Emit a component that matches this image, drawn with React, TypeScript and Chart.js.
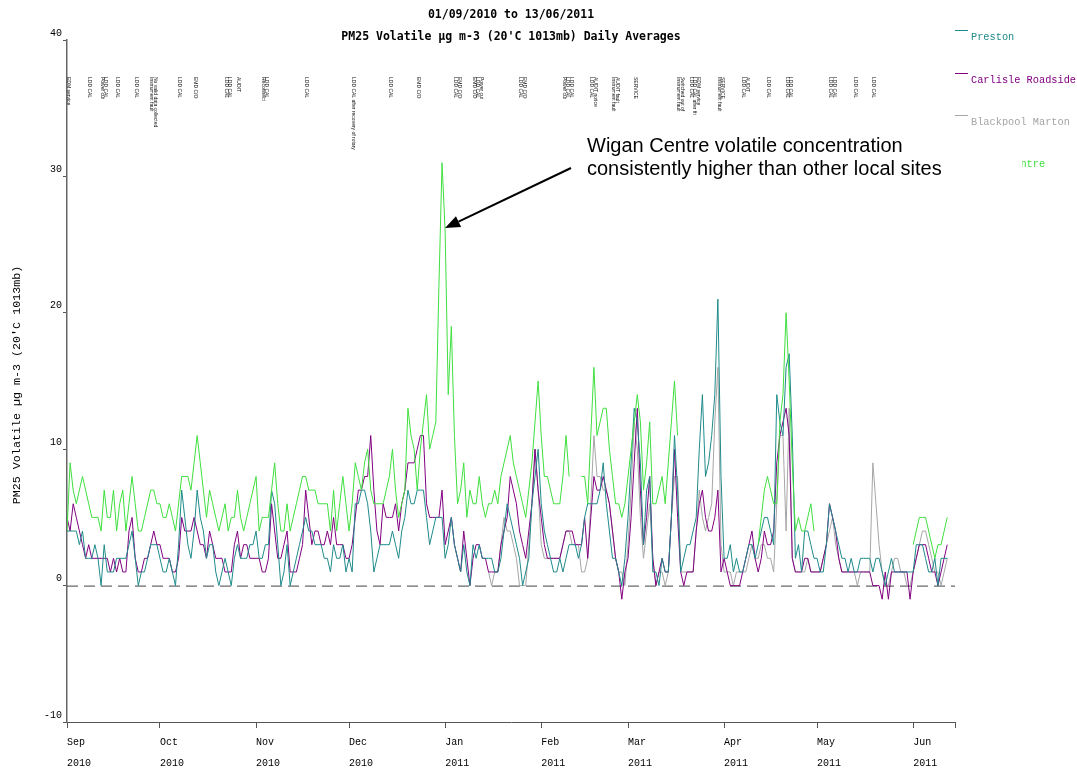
import React, { useEffect, useRef } from 'react';
import { Chart, registerables } from 'chart.js';
Chart.register(...registerables);

// Daily averages, day 0 = 01/09/2010
const wigan: (number | null)[] = [
  4,9,7,6,7,8,7,6,5,5, 5,4,7,5,5,7,4,6,7,4, 6,8,6,4,4,5,6,7,7,6, 6,5,5,6,5,4,6,8,8,8,
  7,9,11,9,7,5,7,6,5,4, 5,6,4,5,5,7,5,4,5,6, 7,8,4,5,5,5,7,9,6,4, 4,6,4,5,6,7,8,8,7,7,
  7,6,6,6,6,4,7,4,6,8, 6,4,6,9,8,7,9,10,7,6, 6,6,6,7,8,10,7,5,6,7, 13,11,10,7,10,12,14,10,11,12,
  22,31,26,14,19,11,6,7,9,5, 7,6,6,8,6,5,6,6,7,6, 8,9,10,11,9,8,7,6,5,7, 9,12,15,11,8,8,7,6,6,6,
  8,11,8,null,null,null,8,8,6,11, 16,11,12,13,13,10,8,6,6,5, 6,8,10,12,14,12,7,9,12,6, 6,7,8,6,9,12,15,11,null,null,
  null,null,null,null,null,null,null,null,null,null, null,null,null,null,null,null,null,null,null,null,
  null,null,null,3,5,7,8,7,6,6, 12,14,20,15,9,4,5,4,4,5, 6,4,null,null,null,null,null,null,null,null,
  null,null,null,null,null,null,null,null,null,null, null,null,null,null,null,null,null,null,null,null,
  null,null,null,3,4,5,5,5,4,3, 2,3,3,4,5,
];
const carlisle: number[] = [
  5,4,6,5,4,3,2,3,2,2, 2,2,2,2,1,2,1,2,1,1, 4,5,2,1,1,2,2,3,4,3, 3,2,2,2,1,1,2,5,4,4,
  4,5,4,3,3,2,4,3,2,2, 2,1,1,1,3,4,2,3,3,2, 2,2,2,1,1,2,6,4,2,2, 3,4,1,1,1,2,3,7,5,3,
  4,4,3,3,4,3,5,3,3,3, 2,2,3,5,7,7,8,8,11,7, 4,3,6,5,5,5,6,4,6,7, 9,9,9,10,11,11,6,5,5,5,
  5,7,3,4,5,3,2,1,4,2, 0,2,3,3,2,2,1,1,1,1, 3,4,5,8,7,6,4,3,2,4, 6,10,7,5,3,2,2,2,2,2,
  3,4,4,4,3,3,3,5,2,5, 8,7,7,8,7,6,4,2,1,-1, 1,2,5,9,13,7,3,5,8,2, 0,1,2,1,1,5,10,5,1,0,
  1,1,1,4,6,7,5,4,4,5, 7,1,2,1,0,0,0,0,1,2, 3,4,2,1,2,4,3,3,4,9, 11,12,13,11,2,1,1,1,2,2,
  1,1,1,1,2,3,6,5,4,2, 1,1,1,1,1,1,1,1,1,1, 0,0,0,-1,1,-1,1,1,1,1, 1,1,-1,1,2,3,3,3,2,1,
  1,0,1,2,3,
];
const preston: number[] = [
  4,4,4,4,3,4,2,2,2,3, 2,0,3,1,1,1,2,2,2,2, 3,4,2,0,1,1,2,3,3,3, 2,1,1,2,1,0,3,7,5,3,
  2,4,7,5,4,2,3,3,1,0, 1,2,1,0,2,3,2,2,2,3, 3,4,2,2,3,3,7,6,3,0, 1,3,0,1,2,3,4,5,4,4,
  3,3,3,2,2,1,3,2,2,3, 1,2,1,6,6,7,7,6,4,1, 2,3,3,3,3,4,3,2,4,5, 7,6,6,7,7,7,5,3,4,5,
  5,5,2,3,5,3,2,1,3,1, 0,3,2,3,2,2,2,2,1,1, 2,4,6,5,4,3,2,0,1,2, 6,8,10,6,4,3,2,1,1,2,
  1,2,3,3,3,2,3,5,6,6, 6,6,7,9,6,4,2,2,1,0, 2,5,9,13,12,9,3,7,8,1, 1,0,2,1,1,5,11,7,1,2,
  3,3,4,5,10,14,8,9,11,14, 21,8,2,2,3,1,2,1,1,2, 3,3,2,3,4,5,5,4,3,14, 12,11,16,17,11,2,3,1,4,4,
  3,2,2,1,1,3,6,5,4,3, 2,2,1,2,1,1,2,2,2,2, 1,2,2,1,0,1,2,1,1,1, 1,1,1,1,3,3,3,2,1,1,
  2,0,2,2,2,
];
const blackpoolStart = 136;
const blackpool: number[] = [
  1,0,1,1, 3,5,4,4,3,2,0,0,0,3, 6,10,7,3,2,2,2,2,2,2, 3,4,4,3,3,3,1,1,2,6,
  11,8,8,7,7,6,4,2,1,1, 0,3,7,12,10,5,2,4,6,2, 0,1,1,0,1,5,8,8,1,1, 1,1,1,4,7,5,4,5,6,12,
  16,3,1,1,1,0,1,1,1,1, 2,3,2,2,3,3,2,2,1,6, 11,11,4,13,2,1,1,1,1,2, 1,1,1,1,2,3,4,5,3,2,
  1,1,1,1,1,0,1,1,1,1, 9,6,3,1,0,0,1,2,2,1, 1,0,0,1,2,3,4,4,3,2, 1,1,0,1,2,
];

const monthTicks = [0, 30, 61, 91, 122, 153, 181, 212, 242, 273];
const monthLabels = ['Sep', 'Oct', 'Nov', 'Dec', 'Jan', 'Feb', 'Mar', 'Apr', 'May', 'Jun'];
const yearLabels = ['2010', '2010', '2010', '2010', '2011', '2011', '2011', '2011', '2011', '2011'];
const yTicks = [-10, 0, 10, 20, 30, 40];

const seriesNames = ['Preston', 'Carlisle Roadside', 'Blackpool Marton', 'Wigan Centre'];
const seriesColors = ['#1f8a8a', '#800080', '#a6a6a6', '#3fdf3f'];

const eventDays = [0, 7, 11, 16, 22, 27, 36, 41, 51, 55, 63, 77, 92, 104, 113, 125, 131, 146, 160, 169, 176, 183, 197, 201, 210, 218, 226, 232, 246, 254, 260];
const eventTexts: string[][] = [
  ['EDM service'], ['LDD CAL'], ['Power cut', 'LDD CAL'], ['LDD CAL'], ['LDD CAL'],
  ['Instrument fault', 'No valid data collected'], ['LDD CAL'], ['EMD C/O'], ['LDD CAL', 'LDD CAL'], ['AUDIT'],
  ['Reconnect', 'LDD CAL'], ['LDD CAL'], ['LDD CAL after recovery of rotary'], ['LDD CAL'], ['EMD C/O'],
  ['LDD CAL', 'EMD C/O'], ['EMD C/O', 'LDD CAL', 'Power cut'], ['LDD CAL', 'EMD C/O'], ['Power cut', 'LDD CAL', 'LDD CAL'],
  ['LDD CAL', 'AUDIT notice'], ['Instrument fault', 'AUDIT fault'], ['SERVICE'], ['Instrument fault', 'Switched out of'],
  ['LDD CAL', 'LDD CAL after fit', 'EDM service'], ['Instrument fault', 'SERVICE'], ['LDD CAL', 'AUDIT'], ['LDD CAL'],
  ['LDD CAL', 'LDD CAL'], ['LDD CAL', 'LDD CAL'], ['LDD CAL'], ['LDD CAL'],
];

const titleLines = ['01/09/2010 to 13/06/2011', "PM25 Volatile µg m-3 (20'C 1013mb) Daily Averages"];
const yTitle = "PM25 Volatile µg m-3 (20'C 1013mb)";
const noteLines = ['Wigan Centre volatile concentration', 'consistently higher than other local sites'];

const toPts = (arr: (number | null)[], start = 0) => arr.map((v, i) => ({ x: i + start, y: v }));

const overlay = {
  id: 'overlay',
  beforeDatasetsDraw(chart: any) {
    const { ctx, chartArea, scales } = chart;
    const y0 = scales.y.getPixelForValue(0);
    ctx.save();
    ctx.strokeStyle = '#444';
    ctx.lineWidth = 1;
    ctx.setLineDash([11, 6]);
    ctx.beginPath();
    ctx.moveTo(chartArea.left, y0 + 0.5);
    ctx.lineTo(chartArea.right, y0 + 0.5);
    ctx.stroke();
    ctx.restore();

    ctx.save();
    ctx.fillStyle = '#111';
    ctx.font = '5px "Liberation Sans"';
    ctx.textBaseline = 'middle';
    eventDays.forEach((d, i) => {
      const x = scales.x.getPixelForValue(d);
      eventTexts[i].forEach((t, k) => {
        ctx.save();
        ctx.translate(x + k * 3.5 + 1, 77);
        ctx.rotate(Math.PI / 2);
        ctx.fillText(t, 0, 0);
        ctx.restore();
      });
    });
    ctx.restore();
  },
  afterDraw(chart: any) {
    const { ctx, chartArea } = chart;
    ctx.save();
    // titles
    ctx.fillStyle = '#000';
    ctx.font = 'bold 11.5px "DejaVu Sans Mono"';
    ctx.textAlign = 'center';
    ctx.textBaseline = 'middle';
    const cx = (chartArea.left + chartArea.right) / 2;
    ctx.fillText(titleLines[0], cx, 15);
    ctx.fillText(titleLines[1], cx, 37);
    // y title
    ctx.font = '11.7px "Liberation Mono"';
    ctx.save();
    ctx.translate(17, (chartArea.top + chartArea.bottom) / 2 + 4);
    ctx.rotate(-Math.PI / 2);
    ctx.fillText(yTitle, 0, 0);
    ctx.restore();
    // legend
    const legY = [30, 73, 115, 157];
    ctx.textAlign = 'left';
    ctx.font = '10.3px "Liberation Mono"';
    seriesNames.forEach((n, i) => {
      ctx.strokeStyle = seriesColors[i];
      ctx.lineWidth = 1;
      ctx.beginPath();
      ctx.moveTo(955, legY[i] + 0.5);
      ctx.lineTo(968, legY[i] + 0.5);
      ctx.stroke();
      ctx.fillStyle = seriesColors[i];
      ctx.fillText(n, 971, legY[i] + 7);
    });
    // annotation box
    ctx.fillStyle = '#fff';
    ctx.fillRect(580, 126, 442, 60);
    ctx.fillStyle = '#000';
    ctx.font = '20px "Liberation Sans"';
    ctx.fillText(noteLines[0], 587, 146);
    ctx.fillText(noteLines[1], 587, 169);
    // arrow
    const x1 = 571, y1 = 168, x2 = 445, y2 = 228;
    const ang = Math.atan2(y2 - y1, x2 - x1);
    const hl = 15, hw = 6;
    const bx = x2 - hl * Math.cos(ang), by = y2 - hl * Math.sin(ang);
    ctx.strokeStyle = '#000';
    ctx.lineWidth = 2;
    ctx.beginPath();
    ctx.moveTo(x1, y1);
    ctx.lineTo(bx, by);
    ctx.stroke();
    ctx.beginPath();
    ctx.moveTo(x2, y2);
    ctx.lineTo(bx + hw * Math.sin(ang), by - hw * Math.cos(ang));
    ctx.lineTo(bx - hw * Math.sin(ang), by + hw * Math.cos(ang));
    ctx.closePath();
    ctx.fill();
    ctx.restore();
  },
};

export default function App() {
  const ref = useRef<HTMLCanvasElement>(null);
  useEffect(() => {
    document.body.style.margin = '0';
    const mk = (i: number, data: any) => ({
      label: seriesNames[i],
      data,
      borderColor: seriesColors[i],
      backgroundColor: seriesColors[i],
      borderWidth: 1,
      pointRadius: 0,
      tension: 0,
      spanGaps: false,
      fill: false,
    });
    const chart = new Chart(ref.current as HTMLCanvasElement, {
      type: 'line',
      data: {
        datasets: [
          mk(3, toPts(wigan)),
          mk(0, toPts(preston)),
          mk(1, toPts(carlisle)),
          mk(2, toPts(blackpool, blackpoolStart)),
        ],
      },
      options: {
        animation: false,
        responsive: false,
        maintainAspectRatio: false,
        layout: { padding: { top: 40, right: 122, left: 0, bottom: 0 } },
        plugins: { legend: { display: false }, title: { display: false }, tooltip: { enabled: false } },
        scales: {
          x: {
            type: 'linear',
            min: 0,
            max: 286.5,
            afterBuildTicks: (s: any) => {
              s.ticks = [...monthTicks.map((v) => ({ value: v })), { value: 286.5 }];
            },
            afterFit: (s: any) => { s.height = 48; },
            ticks: {
              autoSkip: false,
              maxRotation: 0,
              align: 'start',
              padding: 4,
              color: '#000',
              font: { family: 'Liberation Mono', size: 10, lineHeight: 2.1 },
              callback: (v: any) => {
                const i = monthTicks.indexOf(Number(v));
                return i < 0 ? '' : [monthLabels[i], yearLabels[i]];
              },
            },
            grid: { drawOnChartArea: false, drawTicks: true, tickLength: 6, color: '#555' },
            border: { display: true, color: '#555', width: 1 },
          },
          y: {
            type: 'linear',
            min: -10,
            max: 40,
            afterBuildTicks: (s: any) => { s.ticks = yTicks.map((v) => ({ value: v })); },
            afterFit: (s: any) => { s.width = 67; },
            ticks: { padding: 1, labelOffset: -7, color: '#000', font: { family: 'Liberation Mono', size: 10 } },
            grid: { drawOnChartArea: false, drawTicks: true, tickLength: 4, color: '#555' },
            border: { display: true, color: '#666', width: 1.5 },
          },
        },
      },
      plugins: [overlay],
    } as any);
    return () => chart.destroy();
  }, []);
  return (
    <div style={{ width: 1077, height: 770 }}>
      <canvas ref={ref} width={1077} height={770} style={{ display: 'block' }} />
    </div>
  );
}
